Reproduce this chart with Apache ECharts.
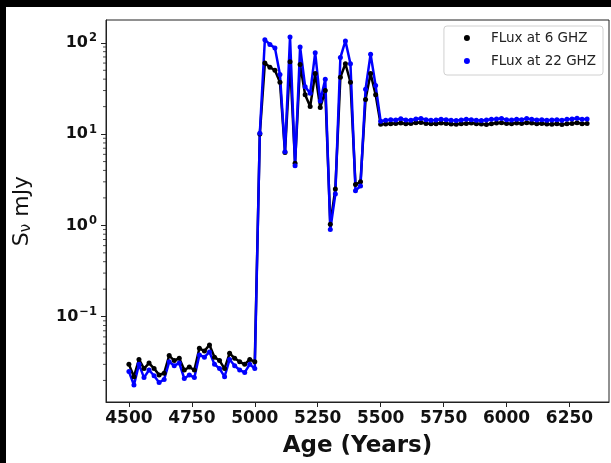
<!DOCTYPE html>
<html>
<head>
<meta charset="utf-8">
<script src="https://cdn.jsdelivr.net/npm/echarts@6/dist/echarts.min.js"></script>
<style>
  html, body { margin: 0; padding: 0; background: #fff; }
  #chart { width: 611px; height: 463px; }
</style>
</head>
<body>
<div id="chart"></div>
<script>
// Model ages (years), one sample every 20 years
const ages = [
  4500, 4520, 4540, 4560, 4580, 4600, 4620, 4640, 4660, 4680,
  4700, 4720, 4740, 4760, 4780, 4800, 4820, 4840, 4860, 4880,
  4900, 4920, 4940, 4960, 4980, 5000, 5020, 5040, 5060, 5080,
  5100, 5120, 5140, 5160, 5180, 5200, 5220, 5240, 5260, 5280,
  5300, 5320, 5340, 5360, 5380, 5400, 5420, 5440, 5460, 5480,
  5500, 5520, 5540, 5560, 5580, 5600, 5620, 5640, 5660, 5680,
  5700, 5720, 5740, 5760, 5780, 5800, 5820, 5840, 5860, 5880,
  5900, 5920, 5940, 5960, 5980, 6000, 6020, 6040, 6060, 6080,
  6100, 6120, 6140, 6160, 6180, 6200, 6220, 6240, 6260, 6280,
  6300, 6320
];

// Flux density at 6 GHz (mJy)
const flux6 = [
  0.030, 0.022, 0.034, 0.027, 0.031, 0.027, 0.023, 0.024, 0.0375, 0.033,
  0.035, 0.026, 0.028, 0.026, 0.045, 0.042, 0.049, 0.036, 0.033, 0.027,
  0.0396, 0.035, 0.032, 0.030, 0.034, 0.032, 10.0, 60, 54, 50,
  37, 6.3, 62, 4.8, 58, 27, 20, 46, 19.5, 30,
  1.03, 2.5, 42, 59, 37, 2.8, 3.0, 24, 46, 27,
  12.8, 12.9, 13.0, 13.1, 13.2, 13.0, 13.1, 13.3, 13.4, 13.1,
  13.0, 13.0, 13.2, 13.1, 12.9, 12.8, 13.0, 13.1, 13.2, 13.0,
  12.9, 12.7, 13.0, 13.2, 13.3, 13.1, 13.0, 13.2, 13.1, 13.3,
  13.2, 13.0, 13.1, 12.9, 12.8, 13.0, 12.7, 13.0, 13.1, 13.3,
  13.0, 13.1
];

// Flux density at 22 GHz (mJy)
const flux22 = [
  0.025, 0.0178, 0.030, 0.0215, 0.026, 0.0225, 0.019, 0.0205, 0.032, 0.029,
  0.031, 0.021, 0.023, 0.0215, 0.038, 0.036, 0.041, 0.030, 0.027, 0.022,
  0.034, 0.029, 0.026, 0.0245, 0.030, 0.027, 10.2, 108, 96, 88,
  45, 6.4, 116, 4.5, 90, 33, 28, 78, 23, 40,
  0.9, 2.2, 69, 105, 59, 2.4, 2.7, 31, 75, 34,
  13.8, 14.2, 14.4, 14.3, 14.7, 14.3, 14.2, 14.6, 14.8, 14.4,
  14.2, 14.3, 14.5, 14.4, 14.2, 14.1, 14.3, 14.5, 14.4, 14.2,
  14.1, 14.3, 14.5, 14.6, 14.8, 14.4, 14.3, 14.5, 14.4, 14.8,
  14.5, 14.3, 14.4, 14.2, 14.3, 14.4, 14.2, 14.5, 14.6, 14.9,
  14.5, 14.6
];

const xTicks = [4500, 4750, 5000, 5250, 5500, 5750, 6000, 6250];
const yTicks = [0.1, 1, 10, 100];
const yMinorTicks = [
  0.02, 0.03, 0.04, 0.05, 0.06, 0.07, 0.08, 0.09,
  0.2, 0.3, 0.4, 0.5, 0.6, 0.7, 0.8, 0.9,
  2, 3, 4, 5, 6, 7, 8, 9,
  20, 30, 40, 50, 60, 70, 80, 90
];
const seriesNames = ['FLux at 6 GHZ', 'FLux at 22 GHZ'];

const FONT = 'DejaVu Sans';

// "10" with a raised exponent, e.g. 10^-1
function powerLabel(v) {
  const e = Math.round(Math.log10(v));
  return '{b|10}{e|' + (e < 0 ? '\u2212' : '') + Math.abs(e) + '}';
}

const X_MIN = 4409, X_MAX = 6407;
const Y_MIN = 0.01161, Y_MAX = 177.8;

const chart = echarts.init(document.getElementById('chart'), null, { renderer: 'canvas' });

chart.setOption({
  animation: false,
  backgroundColor: '#fff',
  textStyle: { fontFamily: FONT },
  grid: {
    left: 106, top: 20, width: 503, height: 383,
    show: true, borderColor: '#222', borderWidth: 1, backgroundColor: '#fff'
  },
  legend: {
    orient: 'vertical',
    right: 8, top: 26,
    data: seriesNames,
    icon: 'circle',
    itemWidth: 38, itemHeight: 6, itemGap: 9,
    padding: [5, 7, 7, 20],
    backgroundColor: 'rgba(255,255,255,0.8)',
    borderColor: '#d0d0d0', borderWidth: 1, borderRadius: 3,
    textStyle: { fontFamily: FONT, fontSize: 13.5, color: '#222' }
  },
  xAxis: {
    type: 'value',
    min: X_MIN, max: X_MAX,
    splitLine: { show: false },
    axisLine: { show: true, lineStyle: { color: '#222', width: 1 } },
    axisTick: { show: true, customValues: xTicks, length: 5, lineStyle: { color: '#222' } },
    axisLabel: {
      customValues: xTicks, margin: 8,
      formatter: v => String(v),
      fontFamily: FONT, fontWeight: 'bold', fontSize: 17, color: '#111'
    },
    name: 'Age (Years)',
    nameLocation: 'middle', nameGap: 33,
    nameTextStyle: { fontFamily: FONT, fontWeight: 'bold', fontSize: 23, color: '#111' }
  },
  yAxis: {
    type: 'log', logBase: 10,
    min: Y_MIN, max: Y_MAX,
    position: 'left',
    splitLine: { show: false },
    axisLine: { show: true, lineStyle: { color: '#222', width: 1 } },
    axisTick: { show: true, customValues: yTicks, length: 5, lineStyle: { color: '#222' } },
    axisLabel: {
      customValues: yTicks, margin: 9,
      formatter: powerLabel,
      rich: {
        b: { fontFamily: FONT, fontWeight: 'bold', fontSize: 16, color: '#111' },
        e: { fontFamily: FONT, fontWeight: 'bold', fontSize: 11.5, color: '#111', padding: [0, 0, 9, 1] }
      }
    },
    name: '{s|S}{sub|\u03BD}{s| mJy}',
    nameLocation: 'middle', nameGap: 72,
    nameTextStyle: {
      rich: {
        s: { fontFamily: FONT, fontSize: 22, color: '#111' },
        sub: { fontFamily: FONT, fontSize: 15, color: '#111', padding: [8, 0, 0, 0] }
      }
    }
  },
  graphic: [
    { type: 'rect', shape: { x: 0, y: 0, width: 611, height: 7 }, style: { fill: '#000' }, z: 100 },
    { type: 'rect', shape: { x: 0, y: 0, width: 6, height: 463 }, style: { fill: '#000' }, z: 100 }
  ],
  series: [
    {
      // minor log ticks (2..9 x 10^k) along the left spine
      name: 'minor', type: 'scatter',
      data: yMinorTicks.map(v => [X_MIN, v]),
      symbol: 'rect', symbolSize: [3, 1], symbolOffset: [-1.5, 0],
      clip: false, silent: true,
      itemStyle: { color: '#222' },
      z: 3
    },
    {
      name: seriesNames[0], type: 'line',
      data: ages.map((a, i) => [a, flux6[i]]),
      symbol: 'circle', symbolSize: 5, showSymbol: true,
      itemStyle: { color: '#000' },
      lineStyle: { color: '#000', width: 2.5 }
    },
    {
      name: seriesNames[1], type: 'line',
      data: ages.map((a, i) => [a, flux22[i]]),
      symbol: 'circle', symbolSize: 5, showSymbol: true,
      itemStyle: { color: '#0000ff' },
      lineStyle: { color: '#0000ff', width: 2.5 }
    }
  ]
});
</script>
</body>
</html>
